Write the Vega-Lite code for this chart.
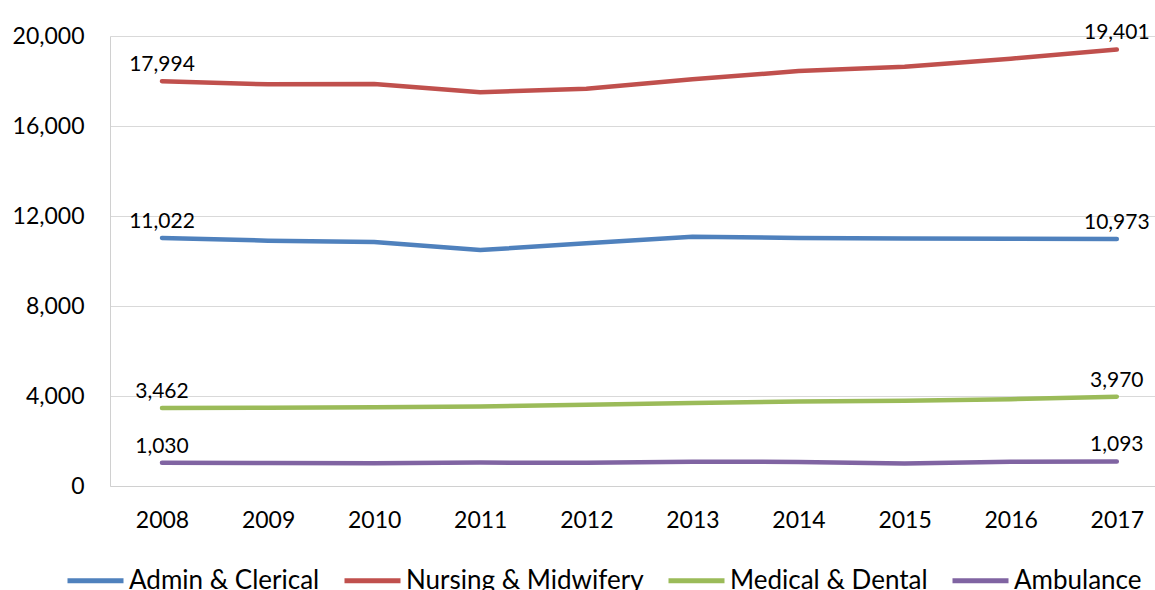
{
  "$schema": "https://vega.github.io/schema/vega-lite/v6.json",
  "width": 1045,
  "height": 450,
  "autosize": "none",
  "padding": {"left": 110, "top": 36, "right": 0, "bottom": 104},
  "config": {
    "font": "Lato",
    "view": {"stroke": null},
    "axis": {"labelFont": "Lato", "labelColor": "#000000", "labelFontSize": 23, "domainColor": "#d0d0d0", "gridColor": "#d9d9d9", "ticks": false, "title": null}
  },
  "data": {
    "values": [
      {"year": 2008, "group": "Admin & Clerical", "value": 11022},
      {"year": 2009, "group": "Admin & Clerical", "value": 10904},
      {"year": 2010, "group": "Admin & Clerical", "value": 10844},
      {"year": 2011, "group": "Admin & Clerical", "value": 10489},
      {"year": 2012, "group": "Admin & Clerical", "value": 10785},
      {"year": 2013, "group": "Admin & Clerical", "value": 11081},
      {"year": 2014, "group": "Admin & Clerical", "value": 11022},
      {"year": 2015, "group": "Admin & Clerical", "value": 11000},
      {"year": 2016, "group": "Admin & Clerical", "value": 10985},
      {"year": 2017, "group": "Admin & Clerical", "value": 10973},
      {"year": 2008, "group": "Nursing & Midwifery", "value": 17994},
      {"year": 2009, "group": "Nursing & Midwifery", "value": 17853},
      {"year": 2010, "group": "Nursing & Midwifery", "value": 17867},
      {"year": 2011, "group": "Nursing & Midwifery", "value": 17498},
      {"year": 2012, "group": "Nursing & Midwifery", "value": 17658},
      {"year": 2013, "group": "Nursing & Midwifery", "value": 18075},
      {"year": 2014, "group": "Nursing & Midwifery", "value": 18440},
      {"year": 2015, "group": "Nursing & Midwifery", "value": 18637},
      {"year": 2016, "group": "Nursing & Midwifery", "value": 18990},
      {"year": 2017, "group": "Nursing & Midwifery", "value": 19401},
      {"year": 2008, "group": "Medical & Dental", "value": 3462},
      {"year": 2009, "group": "Medical & Dental", "value": 3480},
      {"year": 2010, "group": "Medical & Dental", "value": 3495},
      {"year": 2011, "group": "Medical & Dental", "value": 3530},
      {"year": 2012, "group": "Medical & Dental", "value": 3610},
      {"year": 2013, "group": "Medical & Dental", "value": 3690},
      {"year": 2014, "group": "Medical & Dental", "value": 3760},
      {"year": 2015, "group": "Medical & Dental", "value": 3790},
      {"year": 2016, "group": "Medical & Dental", "value": 3860},
      {"year": 2017, "group": "Medical & Dental", "value": 3970},
      {"year": 2008, "group": "Ambulance", "value": 1030},
      {"year": 2009, "group": "Ambulance", "value": 1025},
      {"year": 2010, "group": "Ambulance", "value": 1010},
      {"year": 2011, "group": "Ambulance", "value": 1040},
      {"year": 2012, "group": "Ambulance", "value": 1030},
      {"year": 2013, "group": "Ambulance", "value": 1080},
      {"year": 2014, "group": "Ambulance", "value": 1070},
      {"year": 2015, "group": "Ambulance", "value": 1005},
      {"year": 2016, "group": "Ambulance", "value": 1080},
      {"year": 2017, "group": "Ambulance", "value": 1093}
    ]
  },
  "encoding": {
    "x": {
      "field": "year", "type": "quantitative",
      "scale": {"domain": [2007.51, 2017.36], "nice": false, "zero": false},
      "axis": {"values": [2008, 2009, 2010, 2011, 2012, 2013, 2014, 2015, 2016, 2017], "format": "d", "grid": false, "labelPadding": 23}
    },
    "y": {
      "field": "value", "type": "quantitative",
      "scale": {"domain": [0, 20000], "nice": false},
      "axis": {"values": [0, 4000, 8000, 12000, 16000, 20000], "format": ",.0f", "labelPadding": 26, "grid": true}
    }
  },
  "layer": [
    {
      "mark": {"type": "line", "strokeWidth": 4.5, "strokeCap": "round", "strokeJoin": "round"},
      "encoding": {
        "color": {
          "field": "group", "type": "nominal",
          "scale": {"domain": ["Admin & Clerical", "Nursing & Midwifery", "Medical & Dental", "Ambulance"], "range": ["#4F81BD", "#C0504D", "#9BBB59", "#8064A2"]},
          "legend": {
            "title": null, "orient": "none", "direction": "horizontal", "legendX": -45, "legendY": 514,
            "symbolType": "stroke", "symbolSize": 3136, "symbolStrokeWidth": 5,
            "labelFont": "Lato", "labelFontSize": 26, "labelColor": "#000000", "labelOffset": 3, "columnPadding": 14, "labelLimit": 400
          }
        }
      }
    },
    {
      "transform": [{"filter": "datum.year == 2008 || datum.year == 2017"}],
      "mark": {"type": "text", "fontSize": 21, "font": "Lato", "color": "#000000", "align": "center", "baseline": "alphabetic", "dy": -10},
      "encoding": {
        "text": {"field": "value", "type": "quantitative", "format": ",.0f"}
      }
    }
  ]
}
